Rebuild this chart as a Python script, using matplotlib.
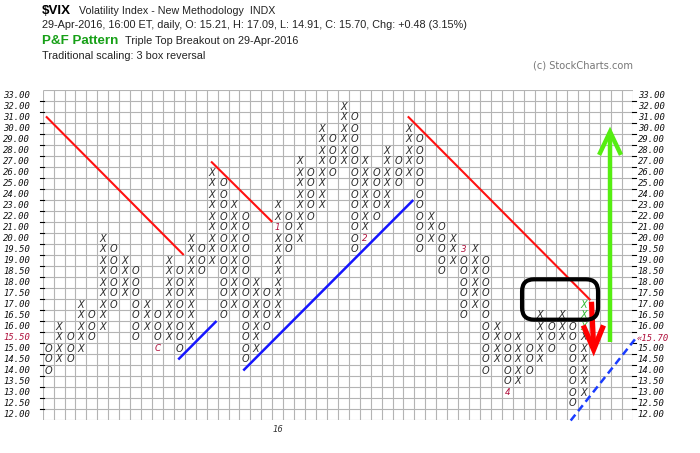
import matplotlib
matplotlib.use("Agg")
import matplotlib.pyplot as plt
from matplotlib.patches import FancyBboxPatch

# price boxes, bottom to top (0.50 boxes below 20, 1.00 boxes above)
levels = [12.0, 12.5, 13.0, 13.5, 14.0, 14.5, 15.0, 15.5, 16.0, 16.5,
          17.0, 17.5, 18.0, 18.5, 19.0, 19.5, 20.0, 21.0, 22.0, 23.0,
          24.0, 25.0, 26.0, 27.0, 28.0, 29.0, 30.0, 31.0, 32.0, 33.0]

# one entry per P&F column: type, lowest box, highest box
col_type = "OXOXOXOXOXOXOXOXOXOXOXOXOXOXOXOXOXOXOXOXOXOXOXOXOX"
col_low = [14.0, 14.5, 14.5, 15.0, 15.5, 16.0, 17.0, 17.5, 15.5, 16.0,
           15.0, 15.5, 15.0, 15.5, 18.5, 19.0, 16.5, 17.0, 14.5, 15.0,
           16.0, 16.5, 19.5, 20.0, 22.0, 23.0, 26.0, 27.0, 19.5, 20.0,
           22.0, 23.0, 25.0, 26.0, 19.5, 20.0, 18.5, 19.0, 16.5, 17.0,
           14.0, 14.5, 13.0, 13.5, 14.0, 14.5, 15.0, 15.5, 12.5, 13.0]
col_high = [15.0, 16.0, 15.5, 17.0, 16.5, 20.0, 19.5, 19.0, 18.5, 17.0,
            16.5, 19.0, 18.5, 20.0, 19.5, 26.0, 25.0, 23.0, 22.0, 18.0,
            17.5, 23.0, 22.0, 27.0, 26.0, 30.0, 29.0, 32.0, 31.0, 27.0,
            26.0, 28.0, 27.0, 30.0, 29.0, 22.0, 21.0, 20.0, 19.5, 19.5,
            19.0, 16.0, 15.5, 15.5, 15.0, 16.5, 16.0, 16.5, 16.0, 17.0]

# month markers that replace a box: (column, price, label)
month_marks = [(10, 15.0, "C"), (21, 21.0, "1"), (29, 20.0, "2"),
               (38, 19.5, "3"), (42, 13.0, "4")]
# boxes added on the last day (shown in green)
new_boxes = [(49, 16.0), (49, 16.5), (49, 17.0)]
year_col, year_label = 21, "16"
last_price = 15.70

# trend lines in (column, box) units
red_lines = [(0.3, 27.6, 12.9, 15.0), (15.4, 23.5, 21.0, 18.0),
             (33.4, 27.6, 50.1, 10.9)]
blue_lines = [(12.4, 5.5, 15.9, 9.0), (18.35, 4.5, 33.9, 20.0)]
blue_dash = (48.3, -0.05, 54.35, 7.55)
target_up = (51.9, 7.1, 26.2)      # x, from, to
target_down = (50.3, 10.75, 6.4)
pattern_box = (43.85, 9.12, 50.8, 12.79)

ncols = 54
nrows = len(levels)

fig = plt.figure(figsize=(7, 4.53), dpi=100)
ax = fig.add_axes([42.7 / 700, 33 / 453, 590.3 / 700, 330 / 453])
ax.set_xlim(0, ncols)
ax.set_ylim(0, nrows)
ax.set_axis_off()

# grid
grid_c = "#b4b4b4"
ax.vlines(range(ncols + 1), 0, nrows, color=grid_c, lw=0.8, zorder=1)
ax.hlines(range(nrows + 1), 0, ncols, color=grid_c, lw=0.8, zorder=1)

# small ticks on both sides
for r in range(1, nrows):
    ax.plot([-0.25, 0.1], [r, r], color="black", lw=0.8, clip_on=False)
    ax.plot([ncols - 0.05, ncols + 0.3], [r, r], color="black", lw=0.8,
            clip_on=False)

crimson = "#b0103c"
lab_font = dict(family="DejaVu Sans Mono", style="italic", fontsize=6.4,
                va="center", ha="left")
for r, p in enumerate(levels):
    col = crimson if p == 15.5 else "#111111"
    ax.text(-3.62, r + 0.5, f"{p:.2f}", color=col, clip_on=False, **lab_font)
    if p != 15.5:
        ax.text(54.42, r + 0.5, f"{p:.2f}", color="#111111", clip_on=False,
                **lab_font)
r_last = levels.index(15.5)
ax.text(54.3, r_last + 0.38, "\u00ab" + f"{last_price:.2f}", color=crimson,
        clip_on=False, **lab_font)

# X and O columns
marks = {(c, p): t for c, p, t in month_marks}
for c in range(len(col_type)):
    lo = levels.index(col_low[c])
    hi = levels.index(col_high[c])
    for r in range(lo, hi + 1):
        p = levels[r]
        if (c, p) in marks:
            ax.text(c + 0.5, r + 0.5, marks[(c, p)], color=crimson,
                    fontsize=6.3, style="italic", ha="center", va="center",
                    zorder=4)
            continue
        color = "#33bb33" if (c, p) in new_boxes else "#2a2a2a"
        ax.text(c + 0.5, r + 0.5, col_type[c], color=color, fontsize=7,
                style="italic", ha="center", va="center", zorder=4)

ax.text(year_col + 0.5, -0.9, year_label, fontsize=6, style="italic",
        color="#333333", ha="center", va="center", clip_on=False)

# trend lines
for x0, y0, x1, y1 in red_lines:
    ax.plot([x0, x1], [y0, y1], color="#ff1010", lw=1.5, zorder=3,
            solid_capstyle="butt")
for x0, y0, x1, y1 in blue_lines:
    ax.plot([x0, x1], [y0, y1], color="#1515ff", lw=1.8, zorder=3,
            solid_capstyle="butt")
x0, y0, x1, y1 = blue_dash
ax.plot([x0, x1], [y0, y1], color="#1a3cff", lw=1.8, ls=(0, (3, 1.8)),
        zorder=3, clip_on=False)

# price objective arrows
gx, gy0, gy1 = target_up
green = "#55ee11"
ax.plot([gx, gx], [gy0, gy1], color=green, lw=3.2, zorder=5,
        solid_capstyle="butt")
ax.plot([gx - 1.0, gx, gx + 1.0], [gy1 - 2.1, gy1, gy1 - 2.1], color=green,
        lw=3.2, zorder=5, solid_joinstyle="miter", solid_capstyle="butt")

rx, ry0, ry1 = target_down
ax.plot([rx - 0.1, rx + 0.1], [ry0, ry1 + 0.2], color="#ff0000", lw=3.8,
        zorder=5, solid_capstyle="butt")
ax.plot([rx - 0.85, rx + 0.1, rx + 1.0], [ry1 + 2.2, ry1, ry1 + 2.2],
        color="#ff0000", lw=3.8, zorder=5, solid_joinstyle="miter",
        solid_capstyle="butt")

# triple top box
bx0, by0, bx1, by1 = pattern_box
ax.add_patch(FancyBboxPatch((bx0, by0), bx1 - bx0, by1 - by0,
                            boxstyle="round,pad=0,rounding_size=1.1",
                            fill=False, ec="black", lw=3.0, zorder=6))

# header
def htext(x, y, s, **kw):
    fig.text(x / 700, 1 - y / 453, s, va="center", ha="left", **kw)

sans = "Liberation Sans"
htext(42, 11, "$VIX", family=sans, fontsize=9.6, weight="bold", color="black")
htext(79, 11, "Volatility Index - New Methodology  INDX", family=sans,
      fontsize=7.7, color="#222222")
htext(42, 25.5, "29-Apr-2016, 16:00 ET, daily, O: 15.21, H: 17.09, "
      "L: 14.91, C: 15.70, Chg: +0.48 (3.15%)", family=sans, fontsize=7.8,
      color="#222222")
htext(42, 41, "P&F Pattern", family=sans, fontsize=9.6, weight="bold",
      color="#17a017")
htext(125, 41, "Triple Top Breakout on 29-Apr-2016", family=sans,
      fontsize=7.8, color="#222222")
htext(42, 56, "Traditional scaling: 3 box reversal", family=sans,
      fontsize=7.8, color="#222222")
htext(533, 65.5, "(c) StockCharts.com", family="DejaVu Sans", fontsize=7.1,
      color="#777777")

fig.savefig("out.png", dpi=100, facecolor="white")
